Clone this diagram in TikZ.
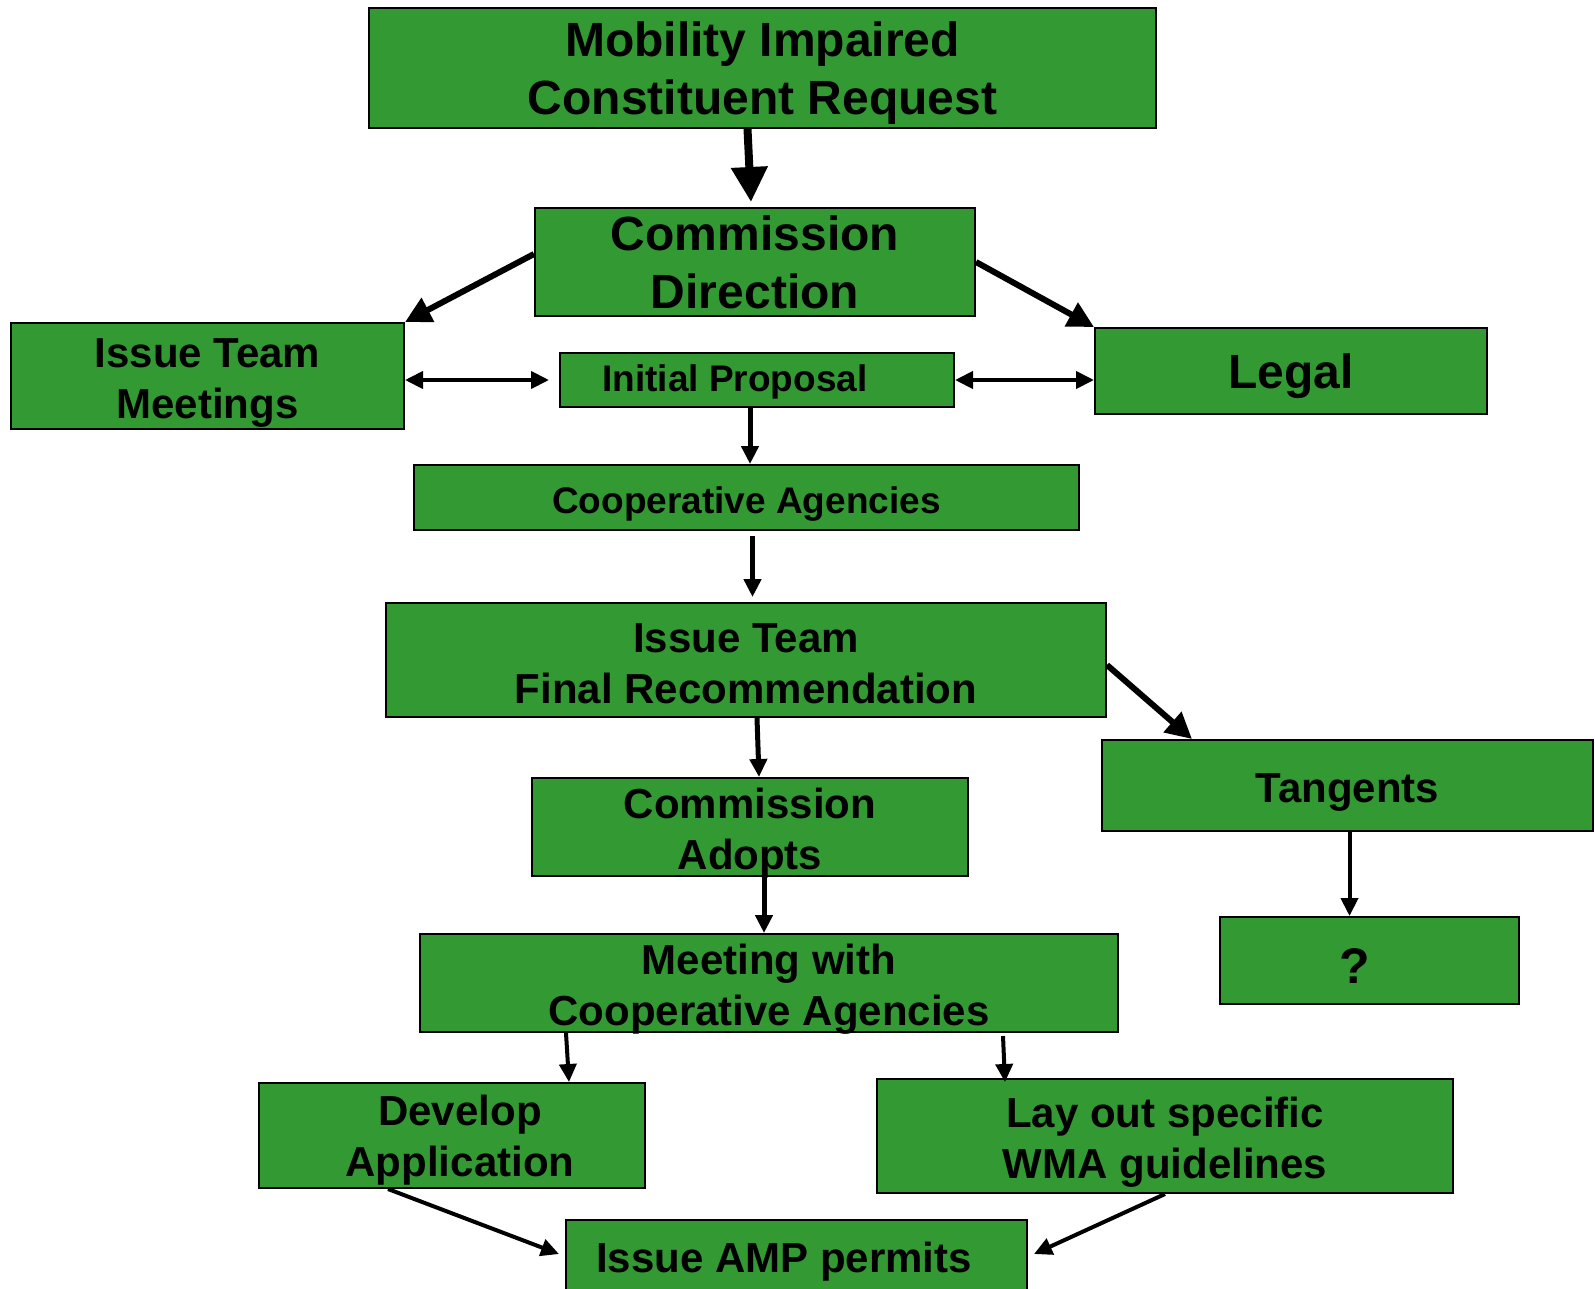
\documentclass[tikz,border=0pt]{standalone}
\usepackage{fontspec}
\setmainfont{Liberation Sans}
\usepackage{xcolor}
\usetikzlibrary{positioning,calc,arrows.meta}

\definecolor{boxgreen}{HTML}{339933}
\newcommand{\dropline}[1]{\rule{0pt}{#1}}

\begin{document}
\begin{tikzpicture}[x=1pt,y=-1pt,>={Triangle[length=18pt,width=17pt]},
                main box/.style={rectangle,draw=black,line width=2pt,fill=boxgreen,inner sep=0pt,align=center,font=\bfseries\fontsize{42}{51}\selectfont},
                big text/.style={font=\bfseries\fontsize{48}{58}\selectfont},
                small text/.style={font=\bfseries\fontsize{37}{44}\selectfont},
                drop/.style={execute at begin node={\rule{0pt}{#1}}},
                link/.style={->,line width=5pt},
                thin link/.style={->,line width=4pt},
                bold link/.style={-{Triangle[length=26pt,width=26pt]},line width=6pt}]
\useasboundingbox (0,0) rectangle (1595,1288);
%Nodes
    \node[main box,big text,minimum width=787pt,minimum height=120pt] (MI) at (762.5,68) {\dropline{45pt}Mobility Impaired\\Constituent Request};
    \node[main box,big text,minimum width=440pt,minimum height=108pt] (CD) at (755,262) {Commission\\Direction};
    \node[main box,minimum width=393pt,minimum height=106pt] (ITM) at (207.5,376) {\dropline{42.7pt}Issue Team\\Meetings};
    \node[main box,small text,minimum width=394pt,minimum height=54pt,text depth=4pt] (IP) at (757,380) {\hspace*{-44pt}Initial Proposal};
    \node[main box,big text,drop=45pt,minimum width=392pt,minimum height=86pt] (LG) at (1291,371) {Legal};
    \node[main box,small text,drop=39pt,minimum width=665pt,minimum height=65pt] (CA) at (746.5,497.5) {Cooperative Agencies};
    \node[main box,minimum width=720pt,minimum height=114pt] (ITFR) at (746,660) {\dropline{36.7pt}Issue Team\\Final Recommendation};
    \node[main box,drop=42.7pt,minimum width=491pt,minimum height=91pt] (TG) at (1347.5,785.5) {Tangents};
    \node[main box,minimum width=436pt,minimum height=98pt] (CAD) at (750,827) {\dropline{33.9pt}Commission\\\smash{Adopts}};
    \node[main box,font=\bfseries\fontsize{50}{60}\selectfont,drop=46.5pt,minimum width=299pt,minimum height=87pt] (QU) at (1369.5,960.5) {\hspace*{-30pt}?};
    \node[main box,minimum width=698pt,minimum height=98pt] (MWCA) at (769,983) {\dropline{33.9pt}Meeting with\\\smash{Cooperative Agencies}};
    \node[main box,minimum width=386pt,minimum height=105pt] (DA) at (452,1135.5) {\dropline{38.7pt}\hspace*{16pt}Develop\\\hspace*{16pt}Application};
    \node[main box,minimum width=576pt,minimum height=114pt] (LO) at (1165,1136) {\dropline{42.7pt}Lay out specific\\WMA guidelines};
    \node[main box,drop=38.7pt,minimum width=461pt,minimum height=74pt] (IAMP) at (796.5,1257) {\hspace*{-25pt}Issue AMP permits};
%Lines
    \draw[-{Triangle[length=35pt,width=35pt]},line width=8pt] ([xshift=-15pt]MI.south) -- ([xshift=-4pt,yshift=5pt]CD.north);
    \draw[bold link] ([yshift=8pt]CD.west) -- (ITM.north east);
    \draw[bold link] (CD.east) -- (LG.north west);
    \draw[thin link,<->] ([yshift=-4pt]ITM.east) -- ([xshift=-10pt]IP.west);
    \draw[thin link,<->] (IP.east) -- (IP.east -| LG.west);
    \draw[link] ([xshift=-7pt]IP.south) -- ([xshift=-7pt]IP.south |- CA.north);
    \draw[link,shorten >=5pt] ([xshift=6pt,yshift=-5pt]CA.south) -- ([xshift=6pt]CA.south |- ITFR.north);
    \draw[bold link] ([yshift=-5pt]ITFR.east) -- ([xshift=91pt]TG.north west);
    \draw[link] ([xshift=11pt]ITFR.south) -- ([xshift=9pt]CAD.north);
    \draw[link] ([xshift=14pt,yshift=16pt]CAD.south) -- ([xshift=14pt]CAD.south |- MWCA.north);
    \draw[thin link] ([xshift=2pt]TG.south) -- ([xshift=2pt]TG.south |- QU.north);
    \draw[thin link] ([xshift=-203pt]MWCA.south) -- ([xshift=117pt]DA.north);
    \draw[thin link] ([xshift=234pt,yshift=-3pt]MWCA.south) -- ([xshift=-160pt,yshift=-4pt]LO.north);
    \draw[thin link] ([xshift=-64pt]DA.south) -- ([xshift=-6pt,yshift=3pt]IAMP.west);
    \draw[thin link] (LO.south) -- ([xshift=6pt,yshift=3pt]IAMP.east);
\end{tikzpicture}
\end{document}
